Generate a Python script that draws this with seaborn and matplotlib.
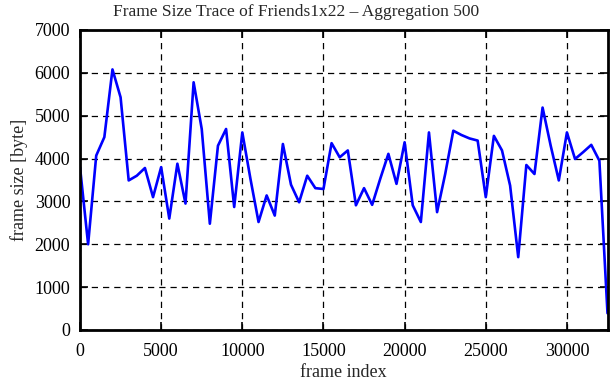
import numpy as np
import pandas as pd
import seaborn as sns
import matplotlib
matplotlib.use("Agg")
import matplotlib.pyplot as plt

# frame index (aggregation 500) and mean frame size in bytes
frame_index = list(range(0, 33000, 500))
frame_size = [
    3800, 2000, 4070, 4500, 6080, 5430, 3490, 3600, 3780, 3100,
    3800, 2600, 3880, 2950, 5780, 4690, 2480, 4300, 4690, 2870,
    4610, 3530, 2520, 3140, 2670, 4340, 3390, 2980, 3600, 3310,
    3290, 4360, 4030, 4190, 2910, 3310, 2920, 3530, 4110, 3410,
    4380, 2910, 2520, 4610, 2750, 3640, 4650, 4550, 4470, 4420,
    3100, 4530, 4190, 3370, 1700, 3850, 3640, 5190, 4300, 3490,
    4610, 3990, 4150, 4320, 3950, 390,
]

df = pd.DataFrame({"frame index": frame_index, "frame size": frame_size})

sns.set_style("ticks")
plt.rcParams["font.family"] = ["Liberation Serif", "DejaVu Serif"]
plt.rcParams["xtick.direction"] = "in"
plt.rcParams["ytick.direction"] = "in"

fig = plt.figure(figsize=(6.11, 3.80), dpi=100)
ax = fig.add_axes([80 / 611, 50 / 380, 527.5 / 611, 300 / 380])

sns.lineplot(data=df, x="frame index", y="frame size", ax=ax,
             color="#0000ff", linewidth=1.9)

ax.set_xlim(0, 32500)
ax.set_ylim(0, 7000)
ax.set_xticks(range(0, 32500, 5000))
ax.set_yticks(range(0, 7001, 1000))
ax.grid(True, color="black", linestyle=(0, (5, 4)), linewidth=0.9)
ax.tick_params(top=True, right=True, length=6, width=1.2,
               labelsize=13, colors="black")
ax.tick_params(axis="x", pad=9)
ax.tick_params(axis="y", pad=7)
for s in ax.spines.values():
    s.set_visible(True)
    s.set_linewidth(2)
    s.set_color("black")

ax.set_xlabel("frame index", fontsize=13, labelpad=3)
ax.set_ylabel("frame size [byte]", fontsize=13, labelpad=5)
fig.text(296 / 611, 1 - 12 / 380,
         "Frame Size Trace of Friends1x22 – Aggregation 500",
         fontsize=12.5, ha="center", va="center")

fig.savefig("out.png", dpi=100)
